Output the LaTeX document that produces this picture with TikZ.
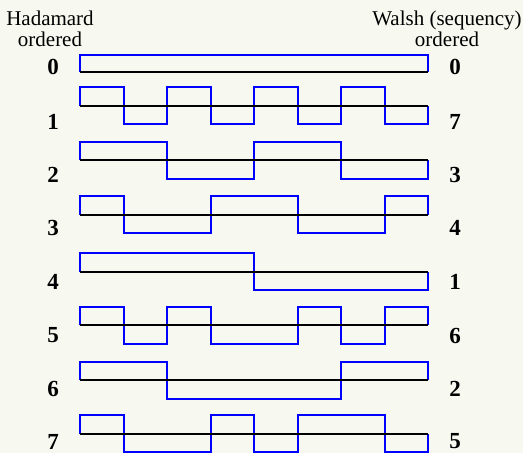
\documentclass[tikz,border=0pt]{standalone}
\usepackage{fontspec}
\setmainfont{Liberation Serif}
\definecolor{xungxanh}{RGB}{0,0,255}
\definecolor{nensang}{RGB}{247,249,240}

\begin{document}
\begin{tikzpicture}[x=0.5pt,y=-0.5pt,line width=1pt,font=\fontsize{10.5}{10.5}\selectfont,
	so/.style={font=\fontsize{11.5}{11.5}\selectfont\bfseries}]
	\fill[nensang] (0,0) rectangle (523,453);
	\useasboundingbox (0,0) rectangle (523,453);
	% tieu de
	\node[align=center] (tdtrai) at (50,29) {Hadamard\\ordered};
	\node[align=center] (tdphai) at (447,29) {Walsh (sequency)\\ordered};
	% cac song
	\draw[xungxanh] (80,72) -- (80,55) -- (428,55) -- (428,72);
	\draw[xungxanh] (80,106) -- (80,87.5) -- (123.5,87.5) -- (123.5,124.5) -- (167,124.5) -- (167,87.5) -- (210.5,87.5) -- (210.5,124.5) -- (254,124.5) -- (254,87.5) -- (297.5,87.5) -- (297.5,124.5) -- (341,124.5) -- (341,87.5) -- (384.5,87.5) -- (384.5,124.5) -- (428,124.5) -- (428,106);
	\draw[xungxanh] (80,160.5) -- (80,142) -- (167,142) -- (167,179) -- (254,179) -- (254,142) -- (341,142) -- (341,179) -- (428,179) -- (428,160.5);
	\draw[xungxanh] (80,215) -- (80,196.5) -- (123.5,196.5) -- (123.5,233.5) -- (210.5,233.5) -- (210.5,196.5) -- (297.5,196.5) -- (297.5,233.5) -- (384.5,233.5) -- (384.5,196.5) -- (428,196.5) -- (428,215);
	\draw[xungxanh] (80,272) -- (80,253.5) -- (254,253.5) -- (254,290.5) -- (428,290.5) -- (428,272);
	\draw[xungxanh] (80,325.5) -- (80,307) -- (123.5,307) -- (123.5,344) -- (167,344) -- (167,307) -- (210.5,307) -- (210.5,344) -- (297.5,344) -- (297.5,307) -- (341,307) -- (341,344) -- (384.5,344) -- (384.5,307) -- (428,307) -- (428,325.5);
	\draw[xungxanh] (80,380) -- (80,361.5) -- (167,361.5) -- (167,398.5) -- (341,398.5) -- (341,361.5) -- (428,361.5) -- (428,380);
	\draw[xungxanh] (80,433.5) -- (80,415) -- (123.5,415) -- (123.5,452) -- (210.5,452) -- (210.5,415) -- (254,415) -- (254,452) -- (297.5,452) -- (297.5,415) -- (384.5,415) -- (384.5,452) -- (428,452) -- (428,433.5);
	% truc ngang
	\draw (80,72) -- (428,72);
	\draw (80,106) -- (428,106);
	\draw (80,160.5) -- (428,160.5);
	\draw (80,215) -- (428,215);
	\draw (80,272) -- (428,272);
	\draw (80,325.5) -- (428,325.5);
	\draw (80,380) -- (428,380);
	\draw (80,433.5) -- (428,433.5);
	% so thu tu
	\node[so] (h0) at (53,67) {0};
	\node[so] (h1) at (53,122) {1};
	\node[so] (h2) at (53,175) {2};
	\node[so] (h3) at (53,228) {3};
	\node[so] (h4) at (53,282) {4};
	\node[so] (h5) at (53,335.5) {5};
	\node[so] (h6) at (53,389) {6};
	\node[so] (h7) at (53,441.5) {7};
	\node[so] (w0) at (455,67) {0};
	\node[so] (w1) at (455,122) {7};
	\node[so] (w2) at (455,175) {3};
	\node[so] (w3) at (455,228) {4};
	\node[so] (w4) at (455,282) {1};
	\node[so] (w5) at (455,335.5) {6};
	\node[so] (w6) at (455,389) {2};
	\node[so] (w7) at (455,441.5) {5};
\end{tikzpicture}
\end{document}
